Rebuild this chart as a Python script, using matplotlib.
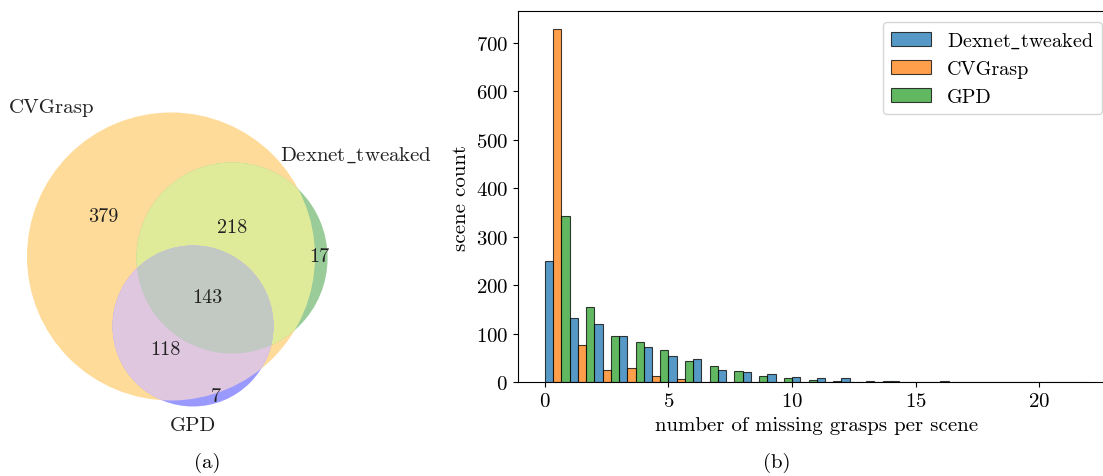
import numpy as np
import matplotlib
matplotlib.use('Agg')
import matplotlib.pyplot as plt
from matplotlib.patches import Circle
from matplotlib.colors import to_rgb

plt.rcParams['font.family'] = 'serif'
plt.rcParams['font.serif'] = ['cmr10']
plt.rcParams['mathtext.fontset'] = 'cm'
plt.rcParams['axes.formatter.use_mathtext'] = True

# ---------------- data ----------------
set_labels = ['CVGrasp', r'$\mathrm{Dexnet\_tweaked}$', 'GPD']
# region codes (CVGrasp, Dexnet, GPD) and counts
venn_regions = ['100', '010', '110', '001', '101', '011', '111']
venn_counts = [379, 17, 218, 7, 118, 0, 143]

bin_start = list(range(22))
dexnet_counts = [250, 132, 121, 95, 73, 55, 47, 25, 22, 18, 10, 8, 8, 3, 3, 1, 3, 1, 1, 1, 1, 1]
cvgrasp_counts = [728, 77, 26, 30, 14, 6, 1, 1, 0, 1, 0, 0, 0, 0, 0, 0, 0, 0, 0, 0, 0, 0]
gpd_counts = [343, 156, 95, 84, 67, 43, 33, 23, 14, 8, 5, 3, 1, 3, 1, 0, 1, 1, 0, 0, 0, 0]
series_names = [r'$\mathrm{Dexnet\_tweaked}$', 'CVGrasp', 'GPD']
x_ticks = [0, 5, 10, 15, 20]
y_ticks = [0, 100, 200, 300, 400, 500, 600, 700]

W, H = 1103, 477
fig = plt.figure(figsize=(W / 100, H / 100), dpi=100)

# ---------------- Venn ----------------
axv = fig.add_axes([0, 0, 460 / W, 1])
axv.set_xlim(0, 460)
axv.set_ylim(H, 0)
axv.axis('off')

counts = dict(zip(venn_regions, venn_counts))
sizes = [sum(c for r, c in counts.items() if r[i] == '1') for i in range(3)]
k = 144.0 / np.sqrt(sizes[0])
radii = [k * np.sqrt(s) for s in sizes]
centers = [(171, 257.5), (232, 259), (193, 327)]

base = [np.array(to_rgb(c)) for c in ('orange', 'green', 'blue')]


def mix(idx):
    cols = [base[i] for i in idx]
    if len(cols) == 1:
        m = cols[0]
    elif len(cols) == 2:
        m = 0.7 * (cols[0] + cols[1])
    else:
        m = 0.4 * (cols[0] + cols[1] + cols[2])
    m = np.minimum(m, 1.0)
    return tuple(0.4 * m + 0.6 * np.ones(3))


def circ(i, color, clip=None):
    c = Circle(centers[i], radii[i], facecolor=color, edgecolor='none', transform=axv.transData)
    axv.add_patch(c)
    if clip is not None:
        cp = Circle(centers[clip], radii[clip], transform=axv.transData)
        c.set_clip_path(cp)
    return c

circ(0, mix([0]))
circ(1, mix([1]))
circ(1, mix([0, 1]), clip=0)
circ(2, mix([2]))
circ(2, mix([0, 2]), clip=0)
circ(2, mix([0, 1, 2]), clip=1)

label_pos = {'100': (103, 217), '010': (319, 257), '110': (232, 228),
             '001': (216, 397), '101': (165, 350), '111': (207, 298)}
for r, (x, y) in label_pos.items():
    axv.text(x, y, str(counts[r]), ha='center', va='center', fontsize=14.5, color='#222222')

axv.text(52, 108, set_labels[0], ha='center', va='center', fontsize=15, color='#222222')
axv.text(356, 155, set_labels[1], ha='center', va='center', fontsize=15, color='#222222')
axv.text(193, 426, set_labels[2], ha='center', va='center', fontsize=15, color='#222222')

fig.text(207 / W, 1 - 463 / H, '(a)', ha='center', va='center', fontsize=15)
fig.text(777 / W, 1 - 463 / H, '(b)', ha='center', va='center', fontsize=15)

# ---------------- histogram ----------------
left, right, top, bottom = 517.7, 1115.8, 12.3, 383.3
ax = fig.add_axes([left / W, 1 - bottom / H, (right - left) / W, (bottom - top) / H])
colors = ['#1f77b4', '#ff7f0e', '#2ca02c']
edges = np.array(bin_start, dtype=float)
for i, (name, vals, col) in enumerate(zip(series_names, [dexnet_counts, cvgrasp_counts, gpd_counts], colors)):
    ax.bar(edges + i / 3, vals, width=1 / 3, align='edge', color=col, alpha=0.75,
           edgecolor='black', linewidth=0.8, label=name)
ax.set_xlim(-1.1, 23.1)
ax.set_ylim(0, 764.4)
ax.set_xticks(x_ticks)
ax.set_yticks(y_ticks)
ax.tick_params(labelsize=15)
ax.set_xlabel('number of missing grasps per scene', fontsize=15)
ax.set_ylabel('scene count', fontsize=15)
ax.legend(loc='upper right', bbox_to_anchor=(1102 / W, 1 - 23.3 / H), bbox_transform=fig.transFigure,
          borderaxespad=0, fontsize=14.5)

fig.savefig('out.png', dpi=100)
